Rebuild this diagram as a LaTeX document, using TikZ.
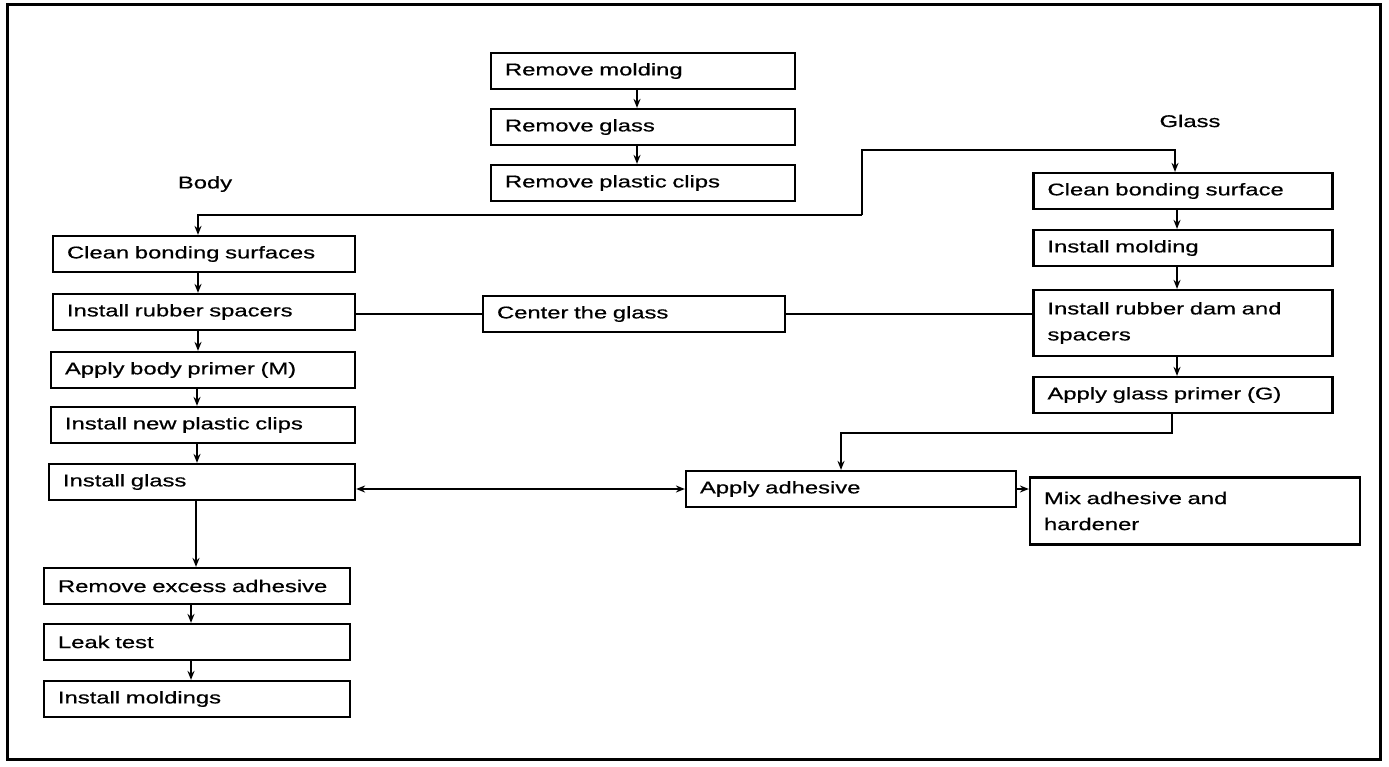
\documentclass[tikz,border=0pt]{standalone}
\usepackage{fontspec}
\setmainfont{Liberation Sans}[FakeStretch=1.4, FakeBold=0.6]
\usetikzlibrary{arrows.meta}
\hyphenpenalty=10000

\tikzset{
  stepbox/.style={draw, line width=2.2pt, text width=#1, inner xsep=14pt, inner ysep=4pt,
    minimum height=36pt, align=left, font=\fontsize{17}{26}\selectfont},
  stepbox/.default=276pt,
  title/.style={font=\fontsize{17}{26}\selectfont},
  link/.style={line width=2.2pt},
  >={Stealth[length=9pt,width=7pt]}
}

\begin{document}
\begin{tikzpicture}[x=1pt, y=-1pt]

  \useasboundingbox (0,0) rectangle (1389,767);

  % Frame
  \draw[line width=3pt] (7,5) rectangle (1380,759);

  % Removal
  \node[stepbox] (rmold)  at (643,71)  {Remove molding};
  \node[stepbox] (rglass) at (643,127) {Remove glass};
  \node[stepbox] (rclips) at (643,183) {Remove plastic clips};

  % Body side
  \node[title] (body) at (205,184) {Body};
  \node[stepbox=274pt] (bclean)   at (204,254) {Clean bonding surfaces};
  \node[stepbox=274pt] (bspacer)  at (204,312) {Install rubber spacers};
  \node[stepbox] (bprimer)  at (203,370) {Apply body primer (M)};
  \node[stepbox] (bclips)   at (203,425) {Install new plastic clips};
  \node[stepbox=278pt] (binstall) at (202,482) {Install glass};
  \node[stepbox=278pt] (bexcess)  at (197,586) {Remove excess adhesive};
  \node[stepbox=278pt] (bleak)    at (197,642) {Leak test};
  \node[stepbox=278pt] (bmold)    at (197,699) {Install moldings};

  % Middle
  \node[stepbox=274pt] (gcenter)  at (634,314) {Center the glass};
  \node[stepbox=302pt] (adhesive) at (851,489) {Apply adhesive};
  \node[stepbox=302pt, minimum height=67pt] (mix) at (1195,511) {Mix adhesive and\\hardener};

  % Glass side
  \node[title] (glass) at (1190,121) {Glass};
  \node[stepbox=271pt] (gclean)  at (1183,191) {Clean bonding surface};
  \node[stepbox=271pt] (gmold)   at (1183,248) {Install molding};
  \node[stepbox=271pt, minimum height=66pt] (gdam) at (1183,323) {Install rubber dam and\\spacers};
  \node[stepbox=271pt] (gprimer) at (1183,395) {Apply glass primer (G)};

  % Vertical steps
  \foreach \a/\b in {rmold/rglass, rglass/rclips,
      bclean/bspacer, bspacer/bprimer, bprimer/bclips, bclips/binstall,
      binstall/bexcess, bexcess/bleak, bleak/bmold,
      gclean/gmold, gmold/gdam, gdam/gprimer} {
    \draw[link, ->] ([xshift=-6pt]\a.south) -- ([xshift=-6pt]\a.south |- \b.north);
  }

  % Split to body and glass
  \coordinate (split) at (862,215);
  \coordinate (rise)  at (862,150);
  \draw[link, ->] (split) -| ([xshift=-6pt]bclean.north);
  \draw[link, ->] (split) -- (rise) -| ([xshift=-8pt]gclean.north);

  % Centering
  \draw[link] (gcenter.west) -- (gcenter.west -| bspacer.east);
  \draw[link] (gcenter.east) -- (gcenter.east -| gdam.west);

  % Adhesive
  \coordinate (bend) at (1172,433);
  \draw[link, ->] (gprimer.south -| bend) -- (bend) -| ([xshift=-10pt]adhesive.north);
  \draw[link, <->] (adhesive.west -| binstall.east) -- (adhesive.west);
  \draw[link, ->] (adhesive.east) -- (adhesive.east -| mix.west);

\end{tikzpicture}
\end{document}
